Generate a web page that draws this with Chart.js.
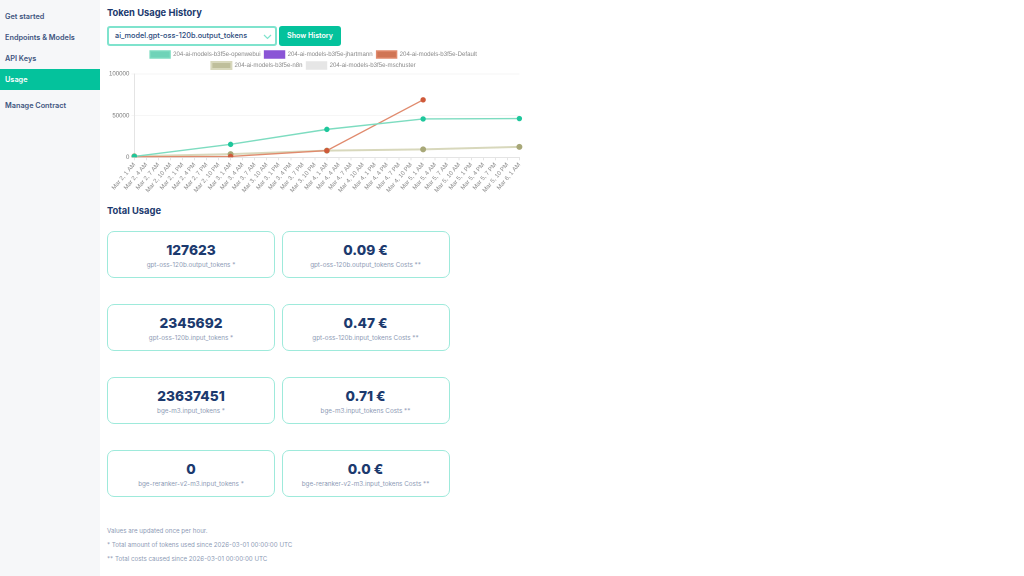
<!DOCTYPE html>
<html><head><meta charset="utf-8">
<script src="https://cdn.jsdelivr.net/npm/chart.js@4"></script>
<style>
html,body{margin:0;padding:0;background:#fff;width:1024px;height:576px;overflow:hidden;font-family:Inter,"Open Sans",sans-serif;color:#1c3a6e}
#side{position:absolute;left:0;top:0;width:100px;height:576px;background:#f6f7f9}
.nav{position:absolute;left:5px;font-size:7.3px;font-weight:600;color:#3e5580;white-space:nowrap}
#active{position:absolute;left:0;top:69px;width:100px;height:21px;background:#04c29c}
h2{position:absolute;margin:0;left:107px;font-size:9.4px;font-weight:700;color:#1c3a6e}
#sel{position:absolute;left:107px;top:26px;width:166px;height:16px;border:2px solid #7fe3cd;border-radius:3px;font-size:7.3px;line-height:16px;text-indent:6px;color:#2c4a7c;background:#fff;font-weight:500}
#sel svg{position:absolute;right:3px;top:6px}
#btn{position:absolute;left:279px;top:26px;width:62px;height:20px;background:#04c29c;border-radius:3px;color:#fff;font-size:7.1px;font-weight:600;text-align:center;line-height:20px}
#wrap{position:absolute;left:107px;top:46px;width:419px;height:149px}
.card{position:absolute;width:166px;height:45px;border:1.2px solid #9eeadb;border-radius:7px;text-align:center}
.card b{display:block;margin-top:9px;font-size:13.7px;line-height:18px;font-weight:800;color:#1c3a6e}
.card span{display:block;margin-top:2px;font-size:6.3px;line-height:8px;color:#8d9ab5}
.note{position:absolute;left:107px;font-size:6.2px;color:#8d9ab5;white-space:nowrap}
</style></head><body>
<div id="side"></div>
<div class="nav" style="top:12px">Get started</div><div class="nav" style="top:33px">Endpoints &amp; Models</div><div class="nav" style="top:54px">API Keys</div>
<div id="active"></div>
<div class="nav" style="top:75px;color:#fff">Usage</div>
<div class="nav" style="top:101px">Manage Contract</div>
<h2 style="top:7px">Token Usage History</h2>
<div id="sel">ai_model.gpt-oss-120b.output_tokens<svg width="9" height="6"><path d="M1 1l3.5 3.5L8 1" fill="none" stroke="#7fe3cd" stroke-width="1.2"/></svg></div>
<div id="btn">Show History</div>
<div id="wrap"><canvas id="c"></canvas></div>
<h2 style="top:205px">Total Usage</h2>
<div id="cards"></div>
<div class="note" style="top:527px">Values are updated once per hour.</div>
<div class="note" style="top:541px">* Total amount of tokens used since 2026-03-01 00:00:00 UTC</div>
<div class="note" style="top:555px">** Total costs caused since 2026-03-01 00:00:00 UTC</div>
<script>
const categories=["Mar 2, 1 AM","Mar 2, 4 AM","Mar 2, 7 AM","Mar 2, 10 AM","Mar 2, 1 PM","Mar 2, 4 PM","Mar 2, 7 PM","Mar 2, 10 PM",
"Mar 3, 1 AM","Mar 3, 4 AM","Mar 3, 7 AM","Mar 3, 10 AM","Mar 3, 1 PM","Mar 3, 4 PM","Mar 3, 7 PM","Mar 3, 10 PM",
"Mar 4, 1 AM","Mar 4, 4 AM","Mar 4, 7 AM","Mar 4, 10 AM","Mar 4, 1 PM","Mar 4, 4 PM","Mar 4, 7 PM","Mar 4, 10 PM",
"Mar 5, 1 AM","Mar 5, 4 AM","Mar 5, 7 AM","Mar 5, 10 AM","Mar 5, 1 PM","Mar 5, 4 PM","Mar 5, 7 PM","Mar 5, 10 PM","Mar 6, 1 AM"];
const sampleIdx=[0,8,16,24,32];
const openwebui=[1000,15500,33500,46000,46500];
const jhartmann=[null,null,null,null,null];
const defaultTenant=[500,1000,8000,69000,null];
const n8n=[1200,3800,8000,9500,12500];
const mschuster=[null,null,null,null,null];
const seriesNames=["204-ai-models-b3f5e-openwebui","204-ai-models-b3f5e-jhartmann","204-ai-models-b3f5e-Default","204-ai-models-b3f5e-n8n","204-ai-models-b3f5e-mschuster"];
const lineColors=["#7ddcc0","#8a55d6","#e08a6d","#d8d8bc","#e6e6e6"];
const pointColors=["#1fc79c","#8a55d6","#cf5a3a","#a8a878","#e6e6e6"];
const legendColors=["#6fd3b8","#8a55d6","#d07555","#bfbf9b","#e6e6e6"];
const lineWidths=[1.4,1.4,1.4,2,1.4];
const seriesValues=[openwebui,jhartmann,defaultTenant,n8n,mschuster];
const cardValues=["127623","0.09 €","2345692","0.47 €","23637451","0.71 €","0","0.0 €"];
const cardLabels=["gpt-oss-120b.output_tokens *","gpt-oss-120b.output_tokens Costs **","gpt-oss-120b.input_tokens *","gpt-oss-120b.input_tokens Costs **","bge-m3.input_tokens *","bge-m3.input_tokens Costs **","bge-reranker-v2-m3.input_tokens *","bge-reranker-v2-m3.input_tokens Costs **"];
const cardsEl=document.getElementById('cards');
cardValues.forEach((v,i)=>{const d=document.createElement('div');d.className='card';
d.style.left=(i%2?281.5:107)+'px';d.style.top=(231+73*Math.floor(i/2))+'px';
d.innerHTML='<b>'+v+'</b><span>'+cardLabels[i]+'</span>';cardsEl.appendChild(d);});
function full(vals){const a=categories.map(()=>null);sampleIdx.forEach((ix,k)=>{a[ix]=vals[k]});return a;}
const f={size:6.1,family:'"Liberation Sans"'};
const tightLegend={id:'tightLegend',afterInit(chart){const l=chart.legend,fit=l.fit;l.fit=function(){fit.call(this);this.height-=5;};}};
new Chart(document.getElementById('c'),{type:'line',plugins:[tightLegend],
data:{labels:categories,datasets:seriesNames.map((n,i)=>({label:n,data:full(seriesValues[i]),borderColor:lineColors[i],backgroundColor:legendColors[i],pointBackgroundColor:pointColors[i],pointBorderColor:pointColors[i],pointRadius:2,borderWidth:lineWidths[i],spanGaps:true,tension:0}))},
options:{responsive:true,maintainAspectRatio:false,animation:false,devicePixelRatio:2,
layout:{padding:{left:0,right:6,top:1,bottom:0}},
plugins:{legend:{labels:{font:f,color:'#888',boxWidth:20,boxHeight:7,padding:4}},tooltip:{enabled:false}},
scales:{y:{min:0,max:100000,ticks:{stepSize:50000,font:f,color:'#777',padding:2,callback:v=>String(v)},grid:{color:'#eeeeee',lineWidth:.6,tickLength:3},border:{color:'#e4e4e4'}},
x:{offset:false,ticks:{autoSkip:false,minRotation:50,maxRotation:50,font:f,color:'#888',padding:1},grid:{drawOnChartArea:false,color:'#e4e4e4',tickLength:3},border:{color:'#e4e4e4'}}}}});
</script></body></html>
